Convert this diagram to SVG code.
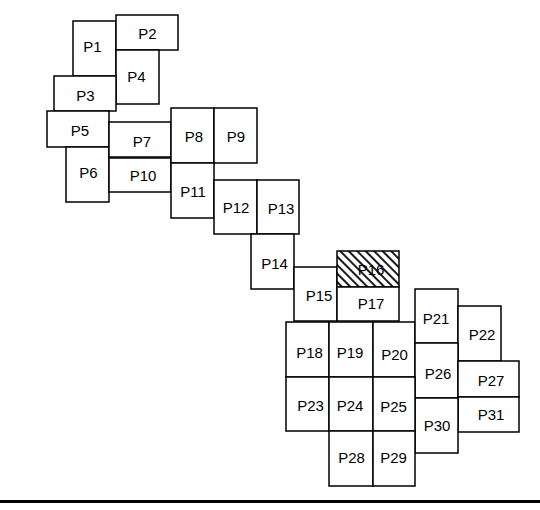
<svg xmlns="http://www.w3.org/2000/svg" width="540" height="510" viewBox="0 0 540 510">
<style>
rect{fill:#fff;stroke:#000;stroke-width:1.5}
rect.h{fill:url(#hatch)}
text{font-family:"Liberation Sans",Arial,sans-serif;font-size:15px;fill:#000;text-anchor:middle}
</style>
<defs>
<pattern id="hatch" patternUnits="userSpaceOnUse" width="6" height="6" patternTransform="rotate(45)">
<rect x="0" y="0" width="6" height="6" style="fill:#fff;stroke:none"/>
<line x1="0" y1="3" x2="6" y2="3" stroke="#000" stroke-width="1.8"/>
</pattern>
</defs>
<rect x="0" y="0" width="540" height="510" style="fill:#fff;stroke:none"/>
<g id="P1"><rect x="73" y="21" width="43" height="55"/><text x="92.5" y="51.5">P1</text></g>
<g id="P2"><rect x="116" y="15" width="62" height="35"/><text x="147.5" y="39">P2</text></g>
<g id="P4"><rect x="116" y="50" width="43" height="54"/><text x="136.5" y="82">P4</text></g>
<g id="P3"><rect x="54" y="76" width="62" height="35"/><text x="85.5" y="101">P3</text></g>
<g id="P5"><rect x="47" y="111" width="62" height="36"/><text x="80" y="136">P5</text></g>
<g id="P6"><rect x="66" y="147" width="43" height="55"/><text x="88.5" y="178">P6</text></g>
<g id="P7"><rect x="109" y="122" width="62" height="35"/><text x="142" y="147">P7</text></g>
<g id="P10"><rect x="109" y="158" width="62" height="34"/><text x="143" y="180.5">P10</text></g>
<g id="P8"><rect x="171" y="108" width="43" height="55"/><text x="194" y="141.5">P8</text></g>
<g id="P9"><rect x="214" y="108" width="43" height="55"/><text x="236" y="141.5">P9</text></g>
<g id="P11"><rect x="171" y="163" width="43" height="55"/><text x="193" y="196.5">P11</text></g>
<g id="P12"><rect x="214" y="180" width="43" height="54"/><text x="236" y="213">P12</text></g>
<g id="P13"><rect x="257" y="180" width="42" height="54"/><text x="281" y="214">P13</text></g>
<g id="P14"><rect x="251" y="234" width="43" height="55"/><text x="274.5" y="269">P14</text></g>
<g id="P15"><rect x="294" y="267" width="43" height="54"/><text x="319" y="301">P15</text></g>
<g id="P16"><rect class="h" x="337" y="251" width="62" height="36"/><text x="371" y="275">P16</text></g>
<g id="P17"><rect x="337" y="287" width="62" height="34"/><text x="371" y="309">P17</text></g>
<g id="P18"><rect x="286" y="322" width="43" height="55"/><text x="309.5" y="358">P18</text></g>
<g id="P19"><rect x="329" y="322" width="44" height="55"/><text x="350" y="358">P19</text></g>
<g id="P20"><rect x="373" y="322" width="42" height="55"/><text x="394.5" y="360">P20</text></g>
<g id="P21"><rect x="415" y="289" width="43" height="54"/><text x="436" y="324">P21</text></g>
<g id="P22"><rect x="458" y="306" width="43" height="55"/><text x="482" y="340">P22</text></g>
<g id="P26"><rect x="415" y="343" width="43" height="55"/><text x="438" y="379">P26</text></g>
<g id="P27"><rect x="458" y="361" width="61" height="36"/><text x="491" y="386">P27</text></g>
<g id="P31"><rect x="458" y="397" width="61" height="35"/><text x="491" y="420">P31</text></g>
<g id="P30"><rect x="415" y="398" width="43" height="55"/><text x="437" y="431">P30</text></g>
<g id="P23"><rect x="286" y="377" width="43" height="54"/><text x="310.5" y="410.5">P23</text></g>
<g id="P24"><rect x="329" y="377" width="44" height="54"/><text x="350" y="410.5">P24</text></g>
<g id="P25"><rect x="373" y="377" width="42" height="54"/><text x="393.5" y="411.5">P25</text></g>
<g id="P28"><rect x="329" y="431" width="44" height="55"/><text x="351.5" y="463">P28</text></g>
<g id="P29"><rect x="373" y="431" width="42" height="55"/><text x="393.5" y="463">P29</text></g>
<line x1="0" y1="501.5" x2="540" y2="501.5" stroke="#000" stroke-width="3"/>
</svg>
